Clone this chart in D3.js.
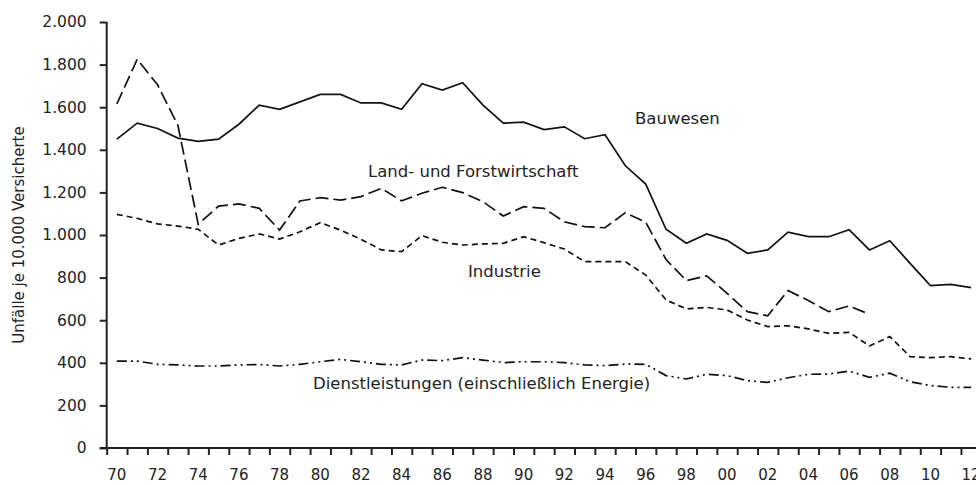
<!DOCTYPE html>
<html>
<head>
<meta charset="utf-8">
<script src="https://cdn.jsdelivr.net/npm/d3@7"></script>
<style>
  body { margin: 0; background: #fff; }
  svg text { font-family: "Century Gothic", "URW Gothic", "DejaVu Sans", sans-serif; fill: #222; }
</style>
</head>
<body>
<div id="chart"></div>
<script>
// Unfälle je 10.000 Versicherte, 1970 - 2012
var years = d3.range(1970, 2013);

var bauwesen = [1450, 1525, 1500, 1455, 1440, 1450, 1520, 1610, 1590, 1625,
  1660, 1660, 1620, 1620, 1590, 1710, 1680, 1715, 1610, 1525,
  1530, 1495, 1508, 1452, 1471, 1325, 1239, 1027, 961, 1005,
  975, 914, 930, 1013, 992, 992, 1025, 930, 973, 867,
  762, 768, 753];

// Land- und Forstwirtschaft: only until 2007
var landForst = [1615, 1825, 1705, 1515, 1050, 1136, 1146, 1125, 1023, 1160,
  1175, 1164, 1180, 1219, 1160, 1196, 1224, 1199, 1156, 1089,
  1133, 1125, 1062, 1039, 1034, 1105, 1060, 885, 786, 808,
  726, 640, 621, 739, 692, 640, 667, 628];

var industrie = [1097, 1078, 1052, 1042, 1027, 953, 984, 1005, 981, 1015,
  1058, 1023, 980, 930, 922, 997, 966, 953, 958, 961,
  992, 964, 934, 875, 875, 875, 812, 695, 653, 660,
  648, 601, 570, 574, 559, 538, 543, 479, 523, 429,
  424, 429, 418];

var dienstleistungen = [408, 408, 393, 390, 385, 385, 390, 392, 385, 393,
  405, 416, 405, 393, 390, 413, 410, 424, 413, 401,
  405, 405, 401, 390, 387, 394, 393, 340, 324, 346,
  340, 316, 308, 330, 346, 347, 361, 332, 351, 311,
  293, 285, 285];

var seriesNames = ['Bauwesen', 'Land- und Forstwirtschaft', 'Industrie',
  'Dienstleistungen (einschließlich Energie)'];
var seriesValues = [bauwesen, landForst, industrie, dienstleistungen];
var seriesDash = [null, '13,5', '6,4', '10,4,2,4,2,4'];

var yTicks = d3.range(0, 2001, 200);
var xLabelYears = d3.range(1970, 2013, 2);

var width = 976, height = 485;
var de = d3.formatLocale({decimal: ',', thousands: '.', grouping: [3], currency: ['', ' €']});
var fmt = de.format(',');

var svg = d3.select('#chart').append('svg')
  .attr('width', width)
  .attr('height', height);

var x = d3.scaleLinear()
  .domain([1969.5, 2012.5])
  .range([106.7, 981.3]);

var y = d3.scaleLinear()
  .domain([0, 2000])
  .range([448, 22]);

// y axis
var yAxis = svg.append('g')
  .attr('transform', 'translate(' + x(1969.5) + ',0)')
  .call(d3.axisLeft(y).tickValues(yTicks).tickSize(7).tickPadding(13).tickFormat(fmt));
yAxis.select('.domain').attr('stroke', '#222').attr('stroke-width', 2)
  .attr('d', 'M0,' + y(2000) + 'V' + y(0));
yAxis.selectAll('.tick line').attr('stroke', '#222').attr('stroke-width', 2);
yAxis.selectAll('.tick text').attr('font-size', 15.5).attr('fill', '#222');

// x axis: ticks between the years
var xAxis = svg.append('g')
  .attr('transform', 'translate(0,' + y(0) + ')')
  .call(d3.axisBottom(x).tickValues(d3.range(1969.5, 2012.6, 1)).tickSize(7).tickFormat(''));
xAxis.select('.domain').attr('stroke', '#222').attr('stroke-width', 2)
  .attr('d', 'M' + (x(1969.5) - 7) + ',0H' + x(2012.5));
xAxis.selectAll('.tick line').attr('stroke', '#222').attr('stroke-width', 2);

svg.append('g').selectAll('text.xlabel').data(xLabelYears)
  .enter()
    .append('text')
      .attr('class', 'xlabel')
      .attr('x', function(d) { return x(d); })
      .attr('y', 480)
      .attr('text-anchor', 'middle')
      .attr('font-size', 15)
      .text(function(d) { return d3.format('02')(d % 100); });

// axis title
svg.append('text')
  .attr('transform', 'translate(24,' + ((y(0) + y(2000)) / 2) + ') rotate(-90)')
  .attr('text-anchor', 'middle')
  .attr('font-size', 15)
  .text('Unfälle je 10.000 Versicherte');

// lines
var line = d3.line()
  .x(function(d, i) { return x(years[i]); })
  .y(function(d) { return y(d); });

svg.append('g').selectAll('path.series').data(seriesValues)
  .enter()
    .append('path')
      .attr('class', 'series')
      .attr('d', line)
      .attr('fill', 'none')
      .attr('stroke', '#111')
      .attr('stroke-width', 1.7)
      .attr('stroke-dasharray', function(d, i) { return seriesDash[i]; });

// series labels
var labelPos = [[635, 124], [368, 177], [468, 277], [313, 389]];
svg.append('g').selectAll('text.slabel').data(seriesNames)
  .enter()
    .append('text')
      .attr('class', 'slabel')
      .attr('x', function(d, i) { return labelPos[i][0]; })
      .attr('y', function(d, i) { return labelPos[i][1]; })
      .attr('font-size', 16.5)
      .text(function(d) { return d; });
</script>
</body>
</html>
